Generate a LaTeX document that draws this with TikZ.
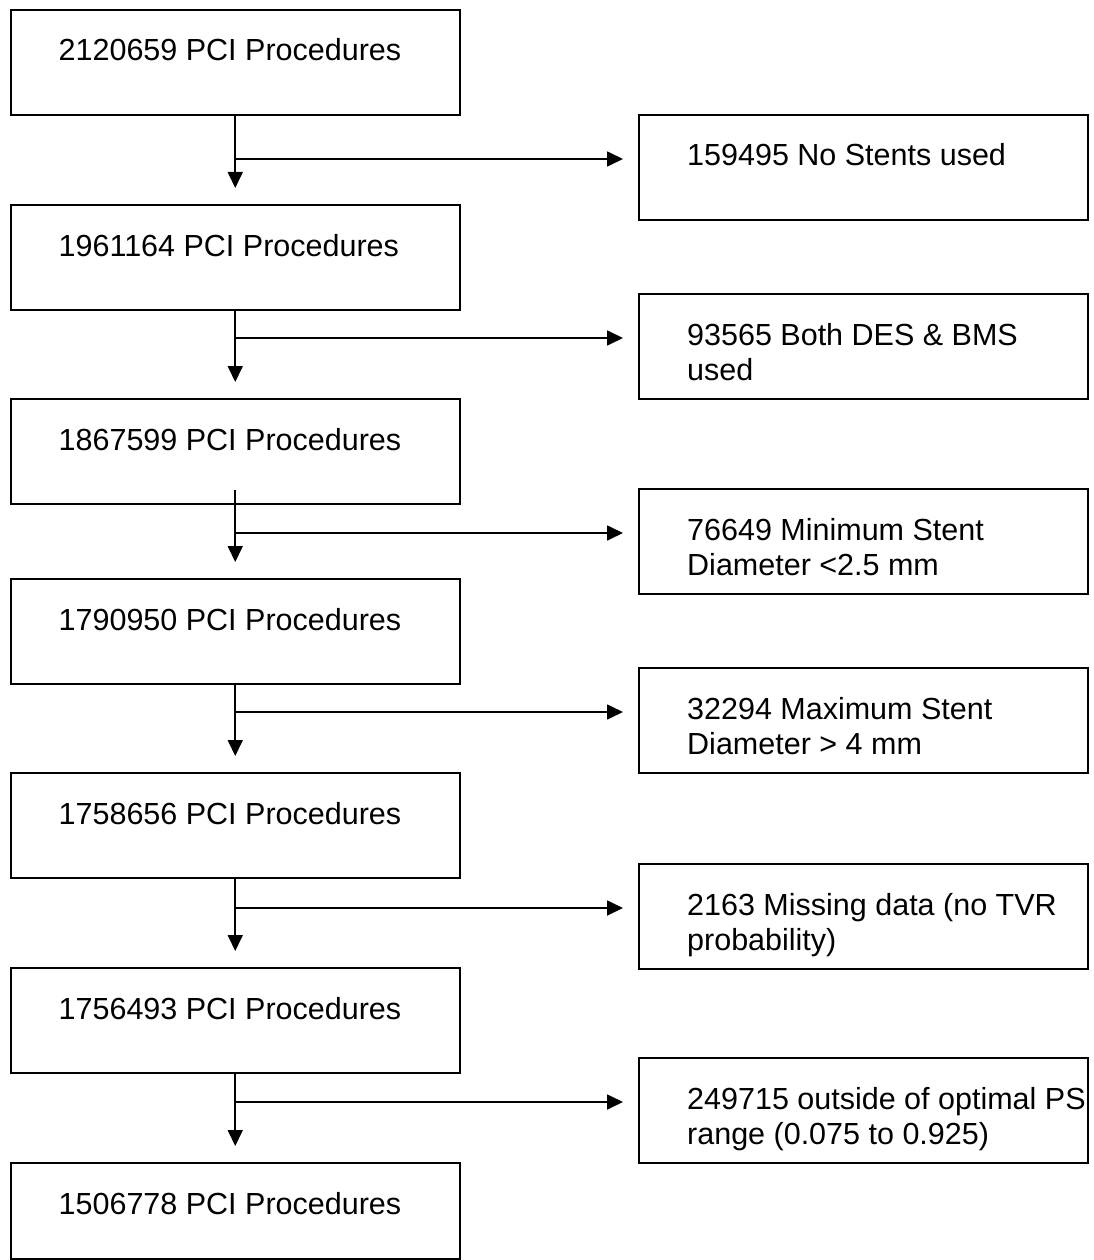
\documentclass[tikz,border=0pt]{standalone}
\usepackage{fontspec}
\setmainfont{Liberation Sans}
\usetikzlibrary{arrows.meta}
\begin{document}
\begin{tikzpicture}[x=1pt,y=-1pt,
  stage/.style={draw, line width=2pt, minimum width=449.5pt, minimum height=105pt,
                inner sep=0pt, anchor=north west},
  excl/.style={draw, line width=2pt, minimum width=449pt, minimum height=105pt,
               inner sep=0pt, anchor=north west},
  lbl/.style={anchor=base west, inner sep=0pt, align=left,
              font=\fontsize{30.5}{35}\selectfont},
  arr/.style={line width=1.7pt, -{Triangle[length=16pt,width=15pt]}}]
\useasboundingbox (0,0) rectangle (1093,1260);

% main flow boxes
\node[stage] (L1) at (9.5,9) {};
\node[stage] (L2) at (9.5,204) {};
\node[stage] (L3) at (9.5,398) {};
\node[stage] (L4) at (9.5,578) {};
\node[stage] (L5) at (9.5,772) {};
\node[stage] (L6) at (9.5,967) {};
\node[stage, minimum height=96pt] (L7) at (9.5,1162) {};

% exclusion boxes
\node[excl] (R1) at (638,114) {};
\node[excl] (R2) at (638,293) {};
\node[excl] (R3) at (638,488) {};
\node[excl] (R4) at (638,667) {};
\node[excl] (R5) at (638,863) {};
\node[excl] (R6) at (638,1057) {};

% box texts (one line: baseline 52 below the top edge;
% two lines: the base anchor sits on the second line, 35 lower)
\node[lbl] (t1) at ([xshift=49pt,yshift=-52pt]L1.north west) {2120659 PCI Procedures};
\node[lbl] (t2) at ([xshift=49pt,yshift=-52pt]L2.north west) {1961164 PCI Procedures};
\node[lbl] (t3) at ([xshift=49pt,yshift=-52pt]L3.north west) {1867599 PCI Procedures};
\node[lbl] (t4) at ([xshift=49pt,yshift=-52pt]L4.north west) {1790950 PCI Procedures};
\node[lbl] (t5) at ([xshift=49pt,yshift=-52pt]L5.north west) {1758656 PCI Procedures};
\node[lbl] (t6) at ([xshift=49pt,yshift=-52pt]L6.north west) {1756493 PCI Procedures};
\node[lbl] (t7) at ([xshift=49pt,yshift=-52pt]L7.north west) {1506778 PCI Procedures};

\node[lbl] (s1) at ([xshift=49pt,yshift=-52pt]R1.north west) {159495 No Stents used};
\node[lbl] (s2) at ([xshift=49pt,yshift=-87pt]R2.north west) {93565 Both DES \& BMS\\used};
\node[lbl] (s3) at ([xshift=49pt,yshift=-87pt]R3.north west) {76649 Minimum Stent\\Diameter <2.5 mm};
\node[lbl] (s4) at ([xshift=49pt,yshift=-87pt]R4.north west) {32294 Maximum Stent\\Diameter > 4 mm};
\node[lbl] (s5) at ([xshift=49pt,yshift=-87pt]R5.north west) {2163 Missing data (no TVR\\probability)};
\node[lbl] (s6) at ([xshift=49pt,yshift=-87pt]R6.north west) {249715 outside of optimal PS\\range (0.075 to 0.925)};

% branch points for the exclusion arrows
\foreach \k in {1,...,6} {
  \coordinate (j\k) at ([yshift=-45pt]R\k.north west);
}

% downward arrows
\draw[arr, shorten >=16pt] (L1.south) -- (L2.north);
\draw[arr, shorten >=16pt] (L2.south) -- (L3.north);
\draw[arr, shorten >=16pt] ([yshift=15pt]L3.south) -- (L4.north);
\draw[arr, shorten >=16pt] (L4.south) -- (L5.north);
\draw[arr, shorten >=16pt] (L5.south) -- (L6.north);
\draw[arr, shorten >=16pt] (L6.south) -- (L7.north);

% sideways arrows to the exclusion boxes
\draw[arr, shorten >=15pt] (L1.south |- j1) -- (j1);
\draw[arr, shorten >=15pt] (L2.south |- j2) -- (j2);
\draw[arr, shorten >=15pt] (L3.south |- j3) -- (j3);
\draw[arr, shorten >=15pt] (L4.south |- j4) -- (j4);
\draw[arr, shorten >=15pt] (L5.south |- j5) -- (j5);
\draw[arr, shorten >=15pt] (L6.south |- j6) -- (j6);
\end{tikzpicture}
\end{document}
